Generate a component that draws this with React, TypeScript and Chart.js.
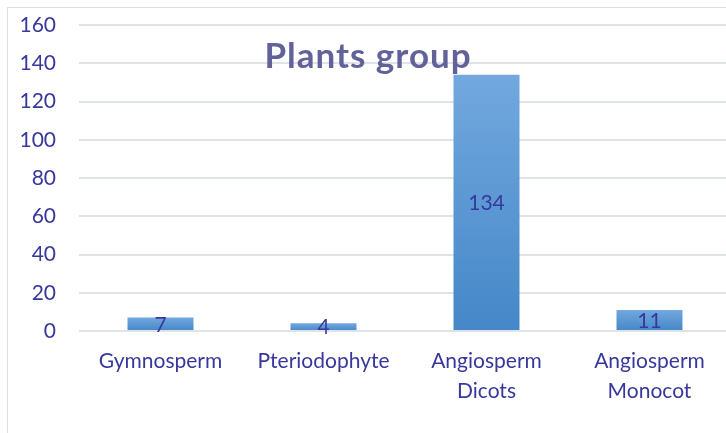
import React, { useEffect, useRef } from "react";
import { Chart, registerables } from "chart.js";

Chart.register(...registerables);

const categories: (string | string[])[] = [
  "Gymnosperm",
  "Pteriodophyte",
  ["Angiosperm", "Dicots"],
  ["Angiosperm", "Monocot"],
];
const counts: number[] = [7, 4, 134, 11];
const yTicks: number[] = [0, 20, 40, 60, 80, 100, 120, 140, 160];
const titleText = "Plants group";

const TEXT = "#38389c";

const barLabels = {
  id: "barLabels",
  afterDatasetsDraw(chart: any) {
    const ctx = chart.ctx;
    const meta = chart.getDatasetMeta(0);
    ctx.save();
    ctx.font = "21px Lato";
    ctx.fillStyle = TEXT;
    ctx.textAlign = "center";
    ctx.textBaseline = "middle";
    meta.data.forEach((el: any, i: number) => {
      const { x, y, base } = el.getProps(["x", "y", "base"], true);
      ctx.fillText(String(counts[i]), x, (y + base) / 2 + 1);
    });
    ctx.restore();
  },
};

const overlayTitle = {
  id: "overlayTitle",
  afterDatasetsDraw(chart: any) {
    const ctx = chart.ctx;
    ctx.save();
    ctx.font = "bold 35px Lato";
    try {
      (ctx as any).letterSpacing = "1px";
    } catch (e) {}
    ctx.fillStyle = "#62629b";
    ctx.textAlign = "center";
    ctx.textBaseline = "alphabetic";
    ctx.fillText(titleText, 360, 60);
    ctx.restore();
  },
};

export default function App() {
  const ref = useRef<HTMLCanvasElement>(null);
  useEffect(() => {
    if (!ref.current) return;
    const chart = new Chart(ref.current, {
      type: "bar",
      data: {
        labels: categories,
        datasets: [
          {
            data: counts,
            categoryPercentage: 1,
            barPercentage: 0.405,
            backgroundColor: (c: any) => {
              const ch = c.chart;
              const ys = ch.scales && ch.scales.y;
              if (!ys || c.parsed == null || c.raw == null) return "#5a98d6";
              const top = ys.getPixelForValue(c.raw as number);
              const bot = ys.getPixelForValue(0);
              if (!isFinite(top) || !isFinite(bot) || top === bot) return "#5a98d6";
              const g = ch.ctx.createLinearGradient(0, top, 0, bot);
              g.addColorStop(0, "#72a8de");
              g.addColorStop(1, "#4587c8");
              return g;
            },
            borderWidth: 0,
          },
        ],
      },
      options: {
        responsive: false,
        animation: false,
        layout: { padding: { top: 17, right: 7, left: 0, bottom: 0 } },
        plugins: {
          legend: { display: false },
          title: { display: false },
          tooltip: { enabled: false },
        },
        scales: {
          x: {
            grid: { display: false, drawTicks: false },
            border: { display: false },
            ticks: {
              color: TEXT,
              font: { family: "Lato", size: 21, lineHeight: 1.4 },
              padding: 16,
              maxRotation: 0,
              autoSkip: false,
            },
            afterFit: (s: any) => {
              s.height = 102;
              s.paddingLeft = 0;
              s.paddingRight = 0;
            },
          },
          y: {
            min: 0,
            max: 160,
            afterBuildTicks: (s: any) => {
              s.ticks = yTicks.map((v) => ({ value: v }));
            },
            grid: { color: "#dfe2e9", lineWidth: 2, drawTicks: false },
            border: { display: false },
            ticks: {
              color: TEXT,
              font: { family: "Lato", size: 21 },
              padding: 23,
            },
            afterFit: (s: any) => {
              s.width = 71;
              s.paddingTop = 0;
              s.paddingBottom = 0;
            },
          },
        },
      },
      plugins: [barLabels, overlayTitle],
    });
    return () => chart.destroy();
  }, []);
  return (
    <div
      style={{
        position: "fixed",
        left: 7,
        top: 7,
        width: 718,
        height: 425,
        overflow: "hidden",
        borderLeft: "1px solid #d9dde5",
        borderTop: "1px solid #d9dde5",
        background: "#ffffff",
      }}
    >
      <canvas ref={ref} width={730} height={425} style={{ display: "block" }} />
    </div>
  );
}
